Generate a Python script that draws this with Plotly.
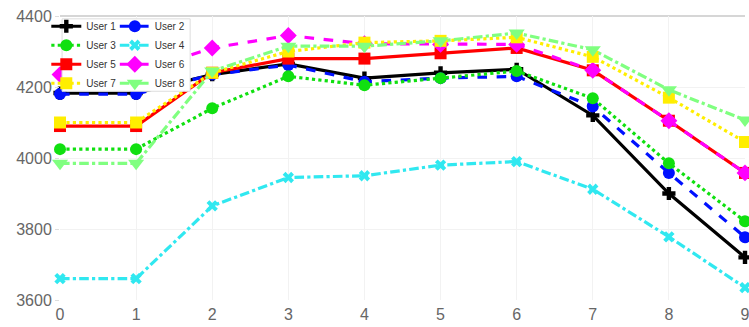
import plotly.graph_objects as go

x_vals = [0, 1, 2, 3, 4, 5, 6, 7, 8, 9]
user1 = [4183, 4183, 4235, 4265, 4225, 4240, 4250, 4120, 3900, 3720]
user2 = [4180, 4180, 4235, 4262, 4215, 4225, 4230, 4145, 3958, 3777]
user3 = [4025, 4025, 4140, 4230, 4205, 4225, 4245, 4168, 3985, 3822]
user4 = [3660, 3660, 3865, 3945, 3950, 3980, 3990, 3912, 3778, 3635]
user5 = [4090, 4090, 4240, 4280, 4280, 4295, 4310, 4247, 4105, 3958]
user6 = [4235, 4240, 4310, 4345, 4322, 4320, 4320, 4247, 4105, 3958]
user7 = [4100, 4100, 4240, 4300, 4325, 4330, 4340, 4285, 4170, 4045]
user8 = [3985, 3985, 4245, 4315, 4315, 4330, 4352, 4305, 4192, 4107]
names = ["User 1", "User 2", "User 3", "User 4", "User 5", "User 6", "User 7", "User 8"]
series = [user1, user2, user3, user4, user5, user6, user7, user8]

styles = [
    dict(color="#000000", dash="solid", symbol="cross", size=11),
    dict(color="#0010ff", dash="dash", symbol="circle", size=12),
    dict(color="#10e010", dash="dot", symbol="circle", size=12),
    dict(color="#30e8f0", dash="dashdot", symbol="x", size=10),
    dict(color="#ff0000", dash="solid", symbol="square", size=12),
    dict(color="#ff00ff", dash="dash", symbol="diamond", size=13),
    dict(color="#ffee00", dash="dot", symbol="square", size=12),
    dict(color="#80ff80", dash="dashdot", symbol="triangle-down", size=14),
]

fig = go.Figure()
for i, (n, s, st) in enumerate(zip(names, series, styles)):
    fig.add_trace(go.Scatter(
        x=x_vals, y=s, name=n, mode="lines+markers", cliponaxis=False,
        line=dict(color=st["color"], dash=st["dash"], width=3.2),
        marker=dict(symbol=st["symbol"], size=st["size"], color=st["color"],
                    line=dict(width=0)),
        legend="legend" if i % 2 == 0 else "legend2",
    ))

tick_font = dict(family="Liberation Sans, Arial, sans-serif", size=16, color="#666")
legend_common = dict(
    font=dict(family="Liberation Sans, Arial, sans-serif", size=10, color="#333"),
    bgcolor="rgba(0,0,0,0)", borderwidth=0,
    yanchor="top", xanchor="left", y=1.015,
    itemwidth=30, tracegroupgap=0,
)
fig.update_layout(
    width=749, height=327,
    margin=dict(l=60, r=4, t=16, b=27),
    plot_bgcolor="white", paper_bgcolor="white",
    legend=dict(x=-0.02, **legend_common),
    legend2=dict(x=0.08, **legend_common),
    xaxis=dict(range=[0, 9], tickvals=x_vals, showgrid=True, gridcolor="#f2f2f2",
               zeroline=False, showline=False, ticks="", automargin=False,
               ticklabeloverflow="allow", ticklabelstandoff=3, tickfont=tick_font),
    yaxis=dict(range=[3600, 4400], tickvals=[3600, 3800, 4000, 4200, 4400],
               showgrid=True, gridcolor="#f2f2f2", zeroline=False, showline=False,
               ticks="outside", ticklen=4, tickcolor="#dddddd",
               automargin=False, tickfont=tick_font),
    shapes=[
        dict(type="line", xref="paper", yref="paper", x0=0, x1=1, y0=1, y1=1,
             line=dict(color="#c8c8c8", width=1.5), layer="below"),
        dict(type="rect", xref="paper", yref="paper", x0=0.003, x1=0.19, y0=0.735, y1=0.99,
             fillcolor="white", line=dict(color="#dddddd", width=1), layer="above"),
    ],
)

fig.write_html("out.html", config={"displayModeBar": False},
               post_script="document.body.style.margin='0';document.body.style.overflow='hidden';")
